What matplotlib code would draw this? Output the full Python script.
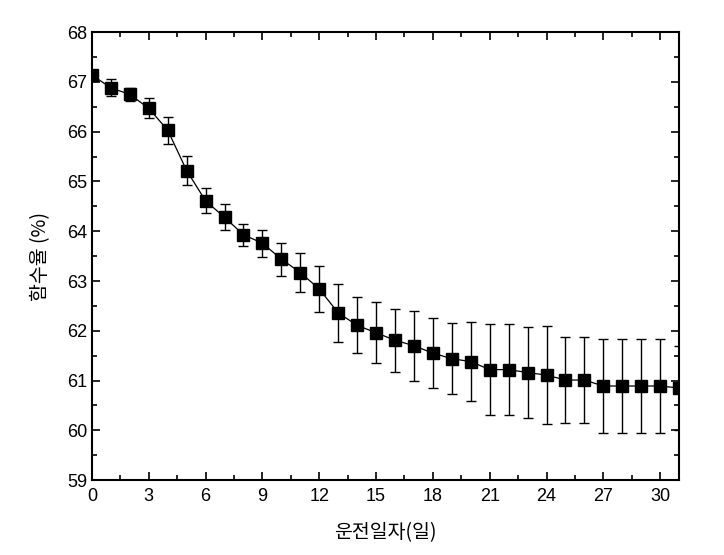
import numpy as np
import matplotlib
matplotlib.use("Agg")
import matplotlib.pyplot as plt
from matplotlib.ticker import MultipleLocator

plt.rcParams["font.family"] = ["Liberation Sans", "Noto Sans CJK KR", "DejaVu Sans"]

days = list(range(32))
moisture = [67.14, 66.88, 66.75, 66.47, 66.03, 65.22, 64.61, 64.28, 63.93, 63.76,
            63.44, 63.17, 62.84, 62.36, 62.11, 61.96, 61.81, 61.70, 61.55, 61.44,
            61.38, 61.22, 61.22, 61.16, 61.11, 61.01, 61.01, 60.89, 60.89, 60.89,
            60.89, 60.85]
err = [0.05, 0.17, 0.13, 0.20, 0.27, 0.29, 0.25, 0.26, 0.22, 0.27,
       0.33, 0.40, 0.47, 0.58, 0.56, 0.61, 0.63, 0.70, 0.70, 0.71,
       0.79, 0.91, 0.91, 0.91, 0.98, 0.86, 0.86, 0.94, 0.94, 0.94,
       0.94, 0.85]

fig = plt.figure(figsize=(7.24, 5.55), dpi=100)
ax = fig.add_axes([0.127, 0.135, 0.811, 0.807])

ax.errorbar(days, moisture, yerr=err, color="black", marker="s", markersize=8.5,
            linewidth=0.9, elinewidth=1.0, capsize=3.8, capthick=1.0)

ax.set_xlim(0, 31)
ax.set_ylim(59, 68)
ax.xaxis.set_major_locator(MultipleLocator(3))
ax.xaxis.set_minor_locator(MultipleLocator(1.5))
ax.yaxis.set_major_locator(MultipleLocator(1))
ax.yaxis.set_minor_locator(MultipleLocator(0.5))
ax.tick_params(which="both", direction="in", top=True, right=True, labelsize=13, width=1.2)
ax.tick_params(which="major", length=6)
ax.tick_params(which="minor", length=3.5)
ax.tick_params(axis="x", pad=6)
for s in ax.spines.values():
    s.set_linewidth(1.5)

ax.set_xlabel("운전일자(일)", fontsize=14, family=["Noto Sans CJK KR", "DejaVu Sans"], labelpad=12)
ax.set_ylabel("함수율 (%)", fontsize=14, family=["Noto Sans CJK KR", "DejaVu Sans"], labelpad=11)

fig.savefig("out.png", dpi=100)
